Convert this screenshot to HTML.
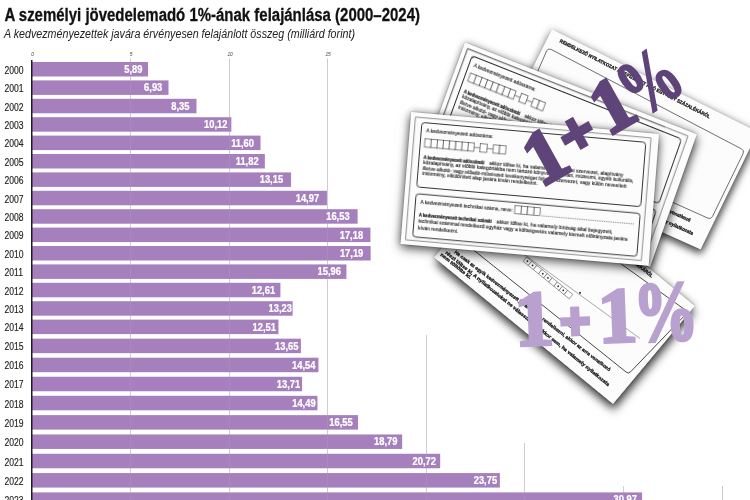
<!DOCTYPE html><html><head><meta charset="utf-8"><title>A személyi jövedelemadó 1%-ának felajánlása</title><style>
html,body{margin:0;padding:0;background:#fff}#wrap{position:relative;width:750px;height:500px;overflow:hidden;background:#fff;font-family:"Liberation Sans",sans-serif}
.layer{position:absolute;left:0;top:0;display:block;will-change:transform}
.form{position:absolute;left:0;top:0;transform-origin:0 0;background:#fcfcfc}.form svg{display:block;overflow:hidden}
</style></head><body><div id="wrap">
<svg width="750" height="500" viewBox="0 0 750 500" class="layer">
<line x1="130.5" y1="58.5" x2="130.5" y2="500" stroke="#c4c4c4" stroke-width="0.9"/>
<line x1="229.5" y1="58.5" x2="229.5" y2="500" stroke="#c4c4c4" stroke-width="0.9"/>
<line x1="327.5" y1="58.5" x2="327.5" y2="500" stroke="#c4c4c4" stroke-width="0.9"/>
<line x1="426.5" y1="334.8" x2="426.5" y2="500" stroke="#c4c4c4" stroke-width="0.9"/>
<line x1="524.5" y1="443" x2="524.5" y2="500" stroke="#c4c4c4" stroke-width="0.9"/>
<line x1="623.5" y1="486" x2="623.5" y2="500" stroke="#c4c4c4" stroke-width="0.9"/>
<line x1="722.5" y1="486" x2="722.5" y2="500" stroke="#c4c4c4" stroke-width="0.9"/>
<text x="32.6" y="56" font-family="Liberation Sans, sans-serif" font-style="italic" font-size="4.8" text-anchor="middle" fill="#444">0</text>
<text x="131.1" y="56" font-family="Liberation Sans, sans-serif" font-style="italic" font-size="4.8" text-anchor="middle" fill="#444">5</text>
<text x="230.1" y="56" font-family="Liberation Sans, sans-serif" font-style="italic" font-size="4.8" text-anchor="middle" fill="#444">10</text>
<text x="328.1" y="56" font-family="Liberation Sans, sans-serif" font-style="italic" font-size="4.8" text-anchor="middle" fill="#444">15</text>
<rect x="32.0" y="62.00" width="116.03" height="14.5" fill="#a680bc"/>
<text transform="translate(142.4,73.0) scale(0.9,1)" font-family="Liberation Sans, sans-serif" font-weight="bold" font-size="10.4" text-anchor="end" fill="#fff" stroke="#fff" stroke-width="0.25">5,89</text>
<text transform="translate(4.5,73.7) scale(0.86,1)" font-family="Liberation Sans, sans-serif" font-size="10" fill="#222" stroke="#222" stroke-width="0.15">2000</text>
<rect x="32.0" y="80.40" width="136.52" height="14.5" fill="#a680bc"/>
<text transform="translate(162.3,91.4) scale(0.9,1)" font-family="Liberation Sans, sans-serif" font-weight="bold" font-size="10.4" text-anchor="end" fill="#fff" stroke="#fff" stroke-width="0.25">6,93</text>
<text transform="translate(4.5,92.1) scale(0.86,1)" font-family="Liberation Sans, sans-serif" font-size="10" fill="#222" stroke="#222" stroke-width="0.15">2001</text>
<rect x="32.0" y="98.80" width="164.49" height="14.5" fill="#a680bc"/>
<text transform="translate(189.5,109.8) scale(0.9,1)" font-family="Liberation Sans, sans-serif" font-weight="bold" font-size="10.4" text-anchor="end" fill="#fff" stroke="#fff" stroke-width="0.25">8,35</text>
<text transform="translate(4.5,110.5) scale(0.86,1)" font-family="Liberation Sans, sans-serif" font-size="10" fill="#222" stroke="#222" stroke-width="0.15">2002</text>
<rect x="32.0" y="117.20" width="199.36" height="14.5" fill="#a680bc"/>
<text transform="translate(227.4,128.2) scale(0.9,1)" font-family="Liberation Sans, sans-serif" font-weight="bold" font-size="10.4" text-anchor="end" fill="#fff" stroke="#fff" stroke-width="0.25">10,12</text>
<text transform="translate(4.5,128.9) scale(0.86,1)" font-family="Liberation Sans, sans-serif" font-size="10" fill="#222" stroke="#222" stroke-width="0.15">2003</text>
<rect x="32.0" y="135.60" width="228.52" height="14.5" fill="#a680bc"/>
<text transform="translate(254.0,146.6) scale(0.9,1)" font-family="Liberation Sans, sans-serif" font-weight="bold" font-size="10.4" text-anchor="end" fill="#fff" stroke="#fff" stroke-width="0.25">11,60</text>
<text transform="translate(4.5,147.3) scale(0.86,1)" font-family="Liberation Sans, sans-serif" font-size="10" fill="#222" stroke="#222" stroke-width="0.15">2004</text>
<rect x="32.0" y="154.00" width="232.85" height="14.5" fill="#a680bc"/>
<text transform="translate(258.6,165.0) scale(0.9,1)" font-family="Liberation Sans, sans-serif" font-weight="bold" font-size="10.4" text-anchor="end" fill="#fff" stroke="#fff" stroke-width="0.25">11,82</text>
<text transform="translate(4.5,165.7) scale(0.86,1)" font-family="Liberation Sans, sans-serif" font-size="10" fill="#222" stroke="#222" stroke-width="0.15">2005</text>
<rect x="32.0" y="172.40" width="259.06" height="14.5" fill="#a680bc"/>
<text transform="translate(283.1,183.4) scale(0.9,1)" font-family="Liberation Sans, sans-serif" font-weight="bold" font-size="10.4" text-anchor="end" fill="#fff" stroke="#fff" stroke-width="0.25">13,15</text>
<text transform="translate(4.5,184.1) scale(0.86,1)" font-family="Liberation Sans, sans-serif" font-size="10" fill="#222" stroke="#222" stroke-width="0.15">2006</text>
<rect x="32.0" y="190.80" width="294.91" height="14.5" fill="#a680bc"/>
<text transform="translate(319.1,201.8) scale(0.9,1)" font-family="Liberation Sans, sans-serif" font-weight="bold" font-size="10.4" text-anchor="end" fill="#fff" stroke="#fff" stroke-width="0.25">14,97</text>
<text transform="translate(4.5,202.5) scale(0.86,1)" font-family="Liberation Sans, sans-serif" font-size="10" fill="#222" stroke="#222" stroke-width="0.15">2007</text>
<rect x="32.0" y="209.20" width="325.64" height="14.5" fill="#a680bc"/>
<text transform="translate(349.6,220.2) scale(0.9,1)" font-family="Liberation Sans, sans-serif" font-weight="bold" font-size="10.4" text-anchor="end" fill="#fff" stroke="#fff" stroke-width="0.25">16,53</text>
<text transform="translate(4.5,220.9) scale(0.86,1)" font-family="Liberation Sans, sans-serif" font-size="10" fill="#222" stroke="#222" stroke-width="0.15">2008</text>
<rect x="32.0" y="227.60" width="338.45" height="14.5" fill="#a680bc"/>
<text transform="translate(363.1,238.6) scale(0.9,1)" font-family="Liberation Sans, sans-serif" font-weight="bold" font-size="10.4" text-anchor="end" fill="#fff" stroke="#fff" stroke-width="0.25">17,18</text>
<text transform="translate(4.5,239.3) scale(0.86,1)" font-family="Liberation Sans, sans-serif" font-size="10" fill="#222" stroke="#222" stroke-width="0.15">2009</text>
<rect x="32.0" y="246.00" width="338.64" height="14.5" fill="#a680bc"/>
<text transform="translate(363.3,257.0) scale(0.9,1)" font-family="Liberation Sans, sans-serif" font-weight="bold" font-size="10.4" text-anchor="end" fill="#fff" stroke="#fff" stroke-width="0.25">17,19</text>
<text transform="translate(4.5,257.7) scale(0.86,1)" font-family="Liberation Sans, sans-serif" font-size="10" fill="#222" stroke="#222" stroke-width="0.15">2010</text>
<rect x="32.0" y="264.40" width="314.41" height="14.5" fill="#a680bc"/>
<text transform="translate(340.9,275.4) scale(0.9,1)" font-family="Liberation Sans, sans-serif" font-weight="bold" font-size="10.4" text-anchor="end" fill="#fff" stroke="#fff" stroke-width="0.25">15,96</text>
<text transform="translate(4.5,276.1) scale(0.86,1)" font-family="Liberation Sans, sans-serif" font-size="10" fill="#222" stroke="#222" stroke-width="0.15">2011</text>
<rect x="32.0" y="282.80" width="248.42" height="14.5" fill="#a680bc"/>
<text transform="translate(275.1,293.8) scale(0.9,1)" font-family="Liberation Sans, sans-serif" font-weight="bold" font-size="10.4" text-anchor="end" fill="#fff" stroke="#fff" stroke-width="0.25">12,61</text>
<text transform="translate(4.5,294.5) scale(0.86,1)" font-family="Liberation Sans, sans-serif" font-size="10" fill="#222" stroke="#222" stroke-width="0.15">2012</text>
<rect x="32.0" y="301.20" width="260.63" height="14.5" fill="#a680bc"/>
<text transform="translate(291.9,312.2) scale(0.9,1)" font-family="Liberation Sans, sans-serif" font-weight="bold" font-size="10.4" text-anchor="end" fill="#fff" stroke="#fff" stroke-width="0.25">13,23</text>
<text transform="translate(4.5,312.9) scale(0.86,1)" font-family="Liberation Sans, sans-serif" font-size="10" fill="#222" stroke="#222" stroke-width="0.15">2013</text>
<rect x="32.0" y="319.60" width="246.45" height="14.5" fill="#a680bc"/>
<text transform="translate(276.0,330.6) scale(0.9,1)" font-family="Liberation Sans, sans-serif" font-weight="bold" font-size="10.4" text-anchor="end" fill="#fff" stroke="#fff" stroke-width="0.25">12,51</text>
<text transform="translate(4.5,331.3) scale(0.86,1)" font-family="Liberation Sans, sans-serif" font-size="10" fill="#222" stroke="#222" stroke-width="0.15">2014</text>
<rect x="32.0" y="338.65" width="268.90" height="14.5" fill="#a680bc"/>
<text transform="translate(298.5,349.6) scale(0.9,1)" font-family="Liberation Sans, sans-serif" font-weight="bold" font-size="10.4" text-anchor="end" fill="#fff" stroke="#fff" stroke-width="0.25">13,65</text>
<text transform="translate(4.5,350.3) scale(0.86,1)" font-family="Liberation Sans, sans-serif" font-size="10" fill="#222" stroke="#222" stroke-width="0.15">2015</text>
<rect x="32.0" y="357.70" width="286.44" height="14.5" fill="#a680bc"/>
<text transform="translate(315.5,368.7) scale(0.9,1)" font-family="Liberation Sans, sans-serif" font-weight="bold" font-size="10.4" text-anchor="end" fill="#fff" stroke="#fff" stroke-width="0.25">14,54</text>
<text transform="translate(4.5,369.4) scale(0.86,1)" font-family="Liberation Sans, sans-serif" font-size="10" fill="#222" stroke="#222" stroke-width="0.15">2016</text>
<rect x="32.0" y="376.75" width="270.09" height="14.5" fill="#a680bc"/>
<text transform="translate(300.2,387.8) scale(0.9,1)" font-family="Liberation Sans, sans-serif" font-weight="bold" font-size="10.4" text-anchor="end" fill="#fff" stroke="#fff" stroke-width="0.25">13,71</text>
<text transform="translate(4.5,388.4) scale(0.86,1)" font-family="Liberation Sans, sans-serif" font-size="10" fill="#222" stroke="#222" stroke-width="0.15">2017</text>
<rect x="32.0" y="395.80" width="285.45" height="14.5" fill="#a680bc"/>
<text transform="translate(315.6,406.8) scale(0.9,1)" font-family="Liberation Sans, sans-serif" font-weight="bold" font-size="10.4" text-anchor="end" fill="#fff" stroke="#fff" stroke-width="0.25">14,49</text>
<text transform="translate(4.5,407.5) scale(0.86,1)" font-family="Liberation Sans, sans-serif" font-size="10" fill="#222" stroke="#222" stroke-width="0.15">2018</text>
<rect x="32.0" y="415.12" width="326.04" height="14.5" fill="#a680bc"/>
<text transform="translate(352.7,426.1) scale(0.9,1)" font-family="Liberation Sans, sans-serif" font-weight="bold" font-size="10.4" text-anchor="end" fill="#fff" stroke="#fff" stroke-width="0.25">16,55</text>
<text transform="translate(4.5,426.8) scale(0.86,1)" font-family="Liberation Sans, sans-serif" font-size="10" fill="#222" stroke="#222" stroke-width="0.15">2019</text>
<rect x="32.0" y="434.44" width="370.16" height="14.5" fill="#a680bc"/>
<text transform="translate(397.4,445.4) scale(0.9,1)" font-family="Liberation Sans, sans-serif" font-weight="bold" font-size="10.4" text-anchor="end" fill="#fff" stroke="#fff" stroke-width="0.25">18,79</text>
<text transform="translate(4.5,446.1) scale(0.86,1)" font-family="Liberation Sans, sans-serif" font-size="10" fill="#222" stroke="#222" stroke-width="0.15">2020</text>
<rect x="32.0" y="453.76" width="408.18" height="14.5" fill="#a680bc"/>
<text transform="translate(435.9,464.8) scale(0.9,1)" font-family="Liberation Sans, sans-serif" font-weight="bold" font-size="10.4" text-anchor="end" fill="#fff" stroke="#fff" stroke-width="0.25">20,72</text>
<text transform="translate(4.5,465.5) scale(0.86,1)" font-family="Liberation Sans, sans-serif" font-size="10" fill="#222" stroke="#222" stroke-width="0.15">2021</text>
<rect x="32.0" y="473.08" width="467.88" height="14.5" fill="#a680bc"/>
<text transform="translate(497.1,484.1) scale(0.9,1)" font-family="Liberation Sans, sans-serif" font-weight="bold" font-size="10.4" text-anchor="end" fill="#fff" stroke="#fff" stroke-width="0.25">23,75</text>
<text transform="translate(4.5,484.8) scale(0.86,1)" font-family="Liberation Sans, sans-serif" font-size="10" fill="#222" stroke="#222" stroke-width="0.15">2022</text>
<rect x="32.0" y="492.40" width="610.11" height="14.5" fill="#a680bc"/>
<text transform="translate(636.9,503.4) scale(0.9,1)" font-family="Liberation Sans, sans-serif" font-weight="bold" font-size="10.4" text-anchor="end" fill="#fff" stroke="#fff" stroke-width="0.25">30,97</text>
<text transform="translate(4.5,504.1) scale(0.86,1)" font-family="Liberation Sans, sans-serif" font-size="10" fill="#222" stroke="#222" stroke-width="0.15">2023</text>
<line x1="130.5" y1="62" x2="130.5" y2="500" stroke="#fff" stroke-opacity="0.08" stroke-width="0.9"/>
<line x1="229.5" y1="62" x2="229.5" y2="500" stroke="#fff" stroke-opacity="0.08" stroke-width="0.9"/>
<line x1="327.5" y1="62" x2="327.5" y2="500" stroke="#fff" stroke-opacity="0.08" stroke-width="0.9"/>
<line x1="426.5" y1="62" x2="426.5" y2="500" stroke="#fff" stroke-opacity="0.08" stroke-width="0.9"/>
<line x1="524.5" y1="62" x2="524.5" y2="500" stroke="#fff" stroke-opacity="0.08" stroke-width="0.9"/>
<line x1="623.5" y1="62" x2="623.5" y2="500" stroke="#fff" stroke-opacity="0.08" stroke-width="0.9"/>
<rect x="31" y="60" width="1.5" height="440" fill="#221a28"/>
<text x="4.4" y="21" font-family="Liberation Sans, sans-serif" font-weight="bold" font-size="18" textLength="415.6" lengthAdjust="spacingAndGlyphs" fill="#111" stroke="#111" stroke-width="0.3">A személyi jövedelemadó 1%-ának felajánlása (2000–2024)</text>
<text x="4" y="38.4" font-family="Liberation Sans, sans-serif" font-style="italic" font-size="12.5" textLength="351" lengthAdjust="spacingAndGlyphs" fill="#222">A kedvezményezettek javára érvényesen felajánlott összeg (milliárd forint)</text>
</svg>
<div class="form" id="formD" style="width:233px;height:130px;transform:matrix3d(0.79504634,0.6479084,0,3.7345459e-05,-0.610687,0.77623556,0,3.9182727e-05,0,0,1,0,515.6,157.7,0,1);box-shadow:5.2px 4.8px 9px 0 rgba(0,0,0,0.7),0 0 8px 0 rgba(0,0,0,.32),0 0 1.5px 0 rgba(0,0,0,0.4)"><svg width="233" height="130" viewBox="0 0 233 130"></svg></div>
<svg width="750" height="500" viewBox="0 0 750 500" class="layer"><defs><clipPath id="clipD"><polygon points="515.6,157.7 694.8,306.0 613.0,404.0 434.0,257.3"/></clipPath></defs><g clip-path="url(#clipD)"><path d="M430.0 215.2L626.2 372.1Q628.5 374.0 630.6 371.8L685.9 314.2Q688.0 312.0 685.6 310.2L560.0 220.0" fill="none" stroke="#333" stroke-width="0.9"/><path d="M470.0 215.0L640.0 338.5" fill="none" stroke="#555" stroke-width="0.5"/><text transform="translate(520.0,171.0) rotate(38.53)" y="1.6" font-family="Liberation Sans, sans-serif" font-weight="bold" font-size="4.8" fill="#151515" stroke="#151515" stroke-width="0.28" textLength="169.4" lengthAdjust="spacingAndGlyphs">RENDELKEZŐ NYILATKOZAT A BEFIZETETT ADÓ EGY+EGY SZÁZALÉKÁRÓL</text><text transform="translate(455.0,251.4) rotate(37.42)" y="1.6" font-family="Liberation Sans, sans-serif" font-weight="bold" font-size="4.8" fill="#151515" stroke="#151515" stroke-width="0.28" textLength="195.2" lengthAdjust="spacingAndGlyphs">Ha csak az egyik kedvezményezett javára kíván rendelkezni, akkor az arra vonatkozó</text><text transform="translate(446.0,252.0) rotate(39.21)" y="1.6" font-family="Liberation Sans, sans-serif" font-weight="bold" font-size="4.8" fill="#151515" stroke="#151515" stroke-width="0.28" textLength="210.4" lengthAdjust="spacingAndGlyphs">részt töltse ki. A nyilatkozatokat ne válassza szét akkor sem, ha valamely nyilatkozata</text><text transform="translate(441.0,254.0) rotate(38.66)" y="1.6" font-family="Liberation Sans, sans-serif" font-weight="bold" font-size="4.8" fill="#151515" stroke="#151515" stroke-width="0.28" textLength="38.4" lengthAdjust="spacingAndGlyphs">nem töltötte ki.</text><g transform="translate(525,259) rotate(39.1)"><rect x="0.0" y="-2.6" width="6.6" height="5.6" fill="#fff" stroke="#444" stroke-width="0.5"/><circle cx="3.3" cy="0.2" r="0.9" fill="#222"/><rect x="6.6" y="-2.6" width="6.6" height="5.6" fill="#fff" stroke="#444" stroke-width="0.5"/><circle cx="9.9" cy="0.2" r="0.9" fill="#222"/><rect x="13.2" y="-2.6" width="6.6" height="5.6" fill="#fff" stroke="#444" stroke-width="0.5"/><rect x="19.8" y="-2.6" width="6.6" height="5.6" fill="#fff" stroke="#444" stroke-width="0.5"/><circle cx="23.1" cy="0.2" r="0.9" fill="#222"/><rect x="26.4" y="-2.6" width="6.6" height="5.6" fill="#fff" stroke="#444" stroke-width="0.5"/><circle cx="29.7" cy="0.2" r="0.9" fill="#222"/><rect x="33.0" y="-2.6" width="6.6" height="5.6" fill="#fff" stroke="#444" stroke-width="0.5"/><rect x="39.6" y="-2.6" width="6.6" height="5.6" fill="#fff" stroke="#444" stroke-width="0.5"/><circle cx="42.9" cy="0.2" r="0.9" fill="#222"/><rect x="46.2" y="-2.6" width="6.6" height="5.6" fill="#fff" stroke="#444" stroke-width="0.5"/><circle cx="49.5" cy="0.2" r="0.9" fill="#222"/><rect x="52.8" y="-2.6" width="6.6" height="5.6" fill="#fff" stroke="#444" stroke-width="0.5"/><circle cx="64" cy="-8.5" r="1" fill="#222"/></g></g></svg>
<div class="form" id="formC" style="width:230px;height:142px;transform:matrix3d(1.1312483,0.48727654,0,0.00031204229,-0.46429453,0.87450352,0,-4.6485259e-05,0,0,1,0,552,29.4,0,1);box-shadow:2.7px 5.4px 8px 0 rgba(0,0,0,0.62),0 0 8px 0 rgba(0,0,0,.32),0 0 1.5px 0 rgba(0,0,0,0.15)"><svg width="230" height="142" viewBox="0 0 230 142"></svg></div>
<svg width="750" height="500" viewBox="0 0 750 500" class="layer"><defs><clipPath id="clipC"><polygon points="552.0,29.4 757.8,132.0 700.6,249.4 489.3,154.6"/></clipPath></defs><g clip-path="url(#clipC)"><text transform="translate(560.0,40.6) rotate(26.99)" y="1.6" font-family="Liberation Sans, sans-serif" font-weight="bold" font-size="4.8" fill="#151515" stroke="#151515" stroke-width="0.28" textLength="168.3" lengthAdjust="spacingAndGlyphs">RENDELKEZŐ NYILATKOZAT A BEFIZETETT ADÓ EGY+EGY SZÁZALÉKÁRÓL</text><path d="M546.6 51.0Q548.0 47.8 551.1 49.4L741.5 148.9Q744.6 150.5 743.1 153.6L712.5 216.4Q711.0 219.5 707.8 218.1L515.2 131.4Q512.0 130.0 513.4 126.8Z" fill="none" stroke="#4a4a4a" stroke-width="0.8"/><text transform="translate(560.0,161.0) rotate(24.51)" y="1.6" font-family="Liberation Sans, sans-serif" font-weight="bold" font-size="5" fill="#151515" stroke="#151515" stroke-width="0.28" textLength="143.4" lengthAdjust="spacingAndGlyphs">egyik kedvezményezett javára kíván rendelkezni, az arra vonatkozó</text><text transform="translate(556.0,172.0) rotate(24.18)" y="1.6" font-family="Liberation Sans, sans-serif" font-weight="bold" font-size="5" fill="#151515" stroke="#151515" stroke-width="0.28" textLength="150.2" lengthAdjust="spacingAndGlyphs">nyilatkozatokat ne válassza szét akkor sem, ha valamely nyilatkozata</text></g></svg>
<div class="form" id="formB" style="width:249px;height:133px;transform:matrix3d(0.87530911,0.35835725,0,-7.9814267e-05,-0.36869258,0.96813664,0,-3.6624696e-05,0,0,1,0,465,42.4,0,1);box-shadow:2.8px 4.3px 9px 0 rgba(0,0,0,0.6),0 0 8px 0 rgba(0,0,0,.32),0 0 1.5px 0 rgba(0,0,0,0.4)"><svg width="249" height="133" viewBox="0 0 249 133"><defs><clipPath id="clipB"><rect x="0" y="0" width="217" height="133"/></clipPath></defs><g clip-path="url(#clipB)"><rect x="4.8" y="4.8" width="236.4" height="123.4" fill="none" stroke="#444" stroke-width="0.6"/><rect x="11.5" y="9.5" width="225" height="65" rx="3.2" fill="none" stroke="#2a2a2a" stroke-width="0.95"/><rect x="11.5" y="81.3" width="225" height="43.4" rx="3.2" fill="none" stroke="#2a2a2a" stroke-width="0.95"/><text x="16.5" y="19.30" font-family="Liberation Sans, sans-serif" font-size="5" fill="#151515" stroke="#151515" stroke-width="0.1" textLength="67.0" lengthAdjust="spacingAndGlyphs">A kedvezményezett adószáma:</text><rect x="16.00" y="25.50" width="6.20" height="8.40" fill="#fff" stroke="#333" stroke-width="0.6"/><rect x="22.20" y="25.50" width="6.20" height="8.40" fill="#fff" stroke="#333" stroke-width="0.6"/><rect x="28.40" y="25.50" width="6.20" height="8.40" fill="#fff" stroke="#333" stroke-width="0.6"/><rect x="34.60" y="25.50" width="6.20" height="8.40" fill="#fff" stroke="#333" stroke-width="0.6"/><rect x="40.80" y="25.50" width="6.20" height="8.40" fill="#fff" stroke="#333" stroke-width="0.6"/><rect x="47.00" y="25.50" width="6.20" height="8.40" fill="#fff" stroke="#333" stroke-width="0.6"/><rect x="53.20" y="25.50" width="6.20" height="8.40" fill="#fff" stroke="#333" stroke-width="0.6"/><rect x="59.40" y="25.50" width="6.20" height="8.40" fill="#fff" stroke="#333" stroke-width="0.6"/><line x1="65.6" y1="29.8" x2="71.6" y2="29.8" stroke="#333" stroke-width="0.6"/><rect x="71.60" y="25.50" width="6.80" height="8.40" fill="#fff" stroke="#333" stroke-width="0.6"/><line x1="78.39999999999999" y1="29.8" x2="84.8" y2="29.8" stroke="#333" stroke-width="0.6"/><rect x="84.80" y="25.50" width="6.20" height="8.40" fill="#fff" stroke="#333" stroke-width="0.6"/><rect x="91.00" y="25.50" width="6.20" height="8.40" fill="#fff" stroke="#333" stroke-width="0.6"/><text x="16.0" y="45.60" font-family="Liberation Sans, sans-serif" font-weight="bold" font-size="4.9" fill="#151515" stroke="#151515" stroke-width="0.22" textLength="61.0" lengthAdjust="spacingAndGlyphs">A kedvezményezett adószámát</text><text x="82.0" y="45.60" font-family="Liberation Sans, sans-serif" font-size="4.9" fill="#151515" stroke="#151515" stroke-width="0.1" textLength="134.6" lengthAdjust="spacingAndGlyphs">akkor töltse ki, ha valamely társadalmi szervezet, alapítvány</text><text x="16.0" y="51.10" font-family="Liberation Sans, sans-serif" font-size="4.9" fill="#151515" stroke="#151515" stroke-width="0.1" textLength="211.5" lengthAdjust="spacingAndGlyphs">közalapítvány, az előbbi kategóriákba nem tartozó könyvtári, levéltári, múzeumi, egyéb kulturális,</text><text x="16.0" y="56.60" font-family="Liberation Sans, sans-serif" font-size="4.9" fill="#151515" stroke="#151515" stroke-width="0.1" textLength="204.6" lengthAdjust="spacingAndGlyphs">illetve alkotó- vagy előadó-művészeti tevékenységet folytató szervezet, vagy külön nevesített</text><text x="16.0" y="62.10" font-family="Liberation Sans, sans-serif" font-size="4.9" fill="#151515" stroke="#151515" stroke-width="0.1" textLength="115.8" lengthAdjust="spacingAndGlyphs">intézmény, elkülönített alap javára kíván rendelkezni.</text><text x="16.5" y="91.00" font-family="Liberation Sans, sans-serif" font-size="5" fill="#151515" stroke="#151515" stroke-width="0.1" textLength="92.5" lengthAdjust="spacingAndGlyphs">A kedvezményezett technikai száma, neve:</text><rect x="111.00" y="84.60" width="6.40" height="8.00" fill="#fff" stroke="#333" stroke-width="0.6"/><rect x="117.40" y="84.60" width="6.40" height="8.00" fill="#fff" stroke="#333" stroke-width="0.6"/><rect x="123.80" y="84.60" width="6.40" height="8.00" fill="#fff" stroke="#333" stroke-width="0.6"/><rect x="130.20" y="84.60" width="6.40" height="8.00" fill="#fff" stroke="#333" stroke-width="0.6"/><line x1="138" y1="92.4" x2="231" y2="92.4" stroke="#333" stroke-width="0.6" stroke-dasharray="1 0.8"/><text x="16.0" y="104.20" font-family="Liberation Sans, sans-serif" font-weight="bold" font-size="4.9" fill="#151515" stroke="#151515" stroke-width="0.22" textLength="72.8" lengthAdjust="spacingAndGlyphs">A kedvezményezett technikai számát</text><text x="93.8" y="104.20" font-family="Liberation Sans, sans-serif" font-size="4.9" fill="#151515" stroke="#151515" stroke-width="0.1" textLength="116.7" lengthAdjust="spacingAndGlyphs">akkor töltse ki, ha valamely bíróság által bejegyzett,</text><text x="16.0" y="110.50" font-family="Liberation Sans, sans-serif" font-size="4.9" fill="#151515" stroke="#151515" stroke-width="0.1" textLength="209.7" lengthAdjust="spacingAndGlyphs">technikai számmal rendelkező egyház vagy a költségvetés valamely kiemelt előirányzata javára</text><text x="16.0" y="116.80" font-family="Liberation Sans, sans-serif" font-size="4.9" fill="#151515" stroke="#151515" stroke-width="0.1" textLength="40.3" lengthAdjust="spacingAndGlyphs">kíván rendelkezni.</text></g><rect x="4.8" y="4.8" width="236.4" height="123.4" fill="none" stroke="#444" stroke-width="0.6"/><rect x="11.5" y="9.5" width="225" height="65" rx="3.2" fill="none" stroke="#2a2a2a" stroke-width="0.95"/><rect x="11.5" y="81.3" width="225" height="43.4" rx="3.2" fill="none" stroke="#2a2a2a" stroke-width="0.95"/></svg></div>
<div class="form" id="formA" style="width:249px;height:133px;transform:matrix3d(0.99969481,0.089271302,0,6.8499093e-06,-0.083877036,0.99039401,0,-8.5540779e-06,0,0,1,0,411.2,112,0,1);box-shadow:0.4px 4.0px 10px 0 rgba(0,0,0,0.58),0 0 8px 0 rgba(0,0,0,.32),0 0 1.5px 0 rgba(0,0,0,0.4)"><svg width="249" height="133" viewBox="0 0 249 133"><rect x="4.8" y="4.8" width="236.4" height="123.4" fill="none" stroke="#444" stroke-width="0.6"/><rect x="11.5" y="9.5" width="225" height="65" rx="3.2" fill="none" stroke="#2a2a2a" stroke-width="0.95"/><rect x="11.5" y="81.3" width="225" height="43.4" rx="3.2" fill="none" stroke="#2a2a2a" stroke-width="0.95"/><text x="16.5" y="19.30" font-family="Liberation Sans, sans-serif" font-size="5" fill="#151515" stroke="#151515" stroke-width="0.1" textLength="67.0" lengthAdjust="spacingAndGlyphs">A kedvezményezett adószáma:</text><rect x="16.00" y="25.50" width="6.20" height="8.40" fill="#fff" stroke="#333" stroke-width="0.6"/><rect x="22.20" y="25.50" width="6.20" height="8.40" fill="#fff" stroke="#333" stroke-width="0.6"/><rect x="28.40" y="25.50" width="6.20" height="8.40" fill="#fff" stroke="#333" stroke-width="0.6"/><rect x="34.60" y="25.50" width="6.20" height="8.40" fill="#fff" stroke="#333" stroke-width="0.6"/><rect x="40.80" y="25.50" width="6.20" height="8.40" fill="#fff" stroke="#333" stroke-width="0.6"/><rect x="47.00" y="25.50" width="6.20" height="8.40" fill="#fff" stroke="#333" stroke-width="0.6"/><rect x="53.20" y="25.50" width="6.20" height="8.40" fill="#fff" stroke="#333" stroke-width="0.6"/><rect x="59.40" y="25.50" width="6.20" height="8.40" fill="#fff" stroke="#333" stroke-width="0.6"/><line x1="65.6" y1="29.8" x2="71.6" y2="29.8" stroke="#333" stroke-width="0.6"/><rect x="71.60" y="25.50" width="6.80" height="8.40" fill="#fff" stroke="#333" stroke-width="0.6"/><line x1="78.39999999999999" y1="29.8" x2="84.8" y2="29.8" stroke="#333" stroke-width="0.6"/><rect x="84.80" y="25.50" width="6.20" height="8.40" fill="#fff" stroke="#333" stroke-width="0.6"/><rect x="91.00" y="25.50" width="6.20" height="8.40" fill="#fff" stroke="#333" stroke-width="0.6"/><text x="16.0" y="45.60" font-family="Liberation Sans, sans-serif" font-weight="bold" font-size="4.9" fill="#151515" stroke="#151515" stroke-width="0.22" textLength="61.0" lengthAdjust="spacingAndGlyphs">A kedvezményezett adószámát</text><text x="82.0" y="45.60" font-family="Liberation Sans, sans-serif" font-size="4.9" fill="#151515" stroke="#151515" stroke-width="0.1" textLength="134.6" lengthAdjust="spacingAndGlyphs">akkor töltse ki, ha valamely társadalmi szervezet, alapítvány</text><text x="16.0" y="51.10" font-family="Liberation Sans, sans-serif" font-size="4.9" fill="#151515" stroke="#151515" stroke-width="0.1" textLength="211.5" lengthAdjust="spacingAndGlyphs">közalapítvány, az előbbi kategóriákba nem tartozó könyvtári, levéltári, múzeumi, egyéb kulturális,</text><text x="16.0" y="56.60" font-family="Liberation Sans, sans-serif" font-size="4.9" fill="#151515" stroke="#151515" stroke-width="0.1" textLength="204.6" lengthAdjust="spacingAndGlyphs">illetve alkotó- vagy előadó-művészeti tevékenységet folytató szervezet, vagy külön nevesített</text><text x="16.0" y="62.10" font-family="Liberation Sans, sans-serif" font-size="4.9" fill="#151515" stroke="#151515" stroke-width="0.1" textLength="115.8" lengthAdjust="spacingAndGlyphs">intézmény, elkülönített alap javára kíván rendelkezni.</text><text x="16.5" y="91.00" font-family="Liberation Sans, sans-serif" font-size="5" fill="#151515" stroke="#151515" stroke-width="0.1" textLength="92.5" lengthAdjust="spacingAndGlyphs">A kedvezményezett technikai száma, neve:</text><rect x="111.00" y="84.60" width="6.40" height="8.00" fill="#fff" stroke="#333" stroke-width="0.6"/><rect x="117.40" y="84.60" width="6.40" height="8.00" fill="#fff" stroke="#333" stroke-width="0.6"/><rect x="123.80" y="84.60" width="6.40" height="8.00" fill="#fff" stroke="#333" stroke-width="0.6"/><rect x="130.20" y="84.60" width="6.40" height="8.00" fill="#fff" stroke="#333" stroke-width="0.6"/><line x1="138" y1="92.4" x2="231" y2="92.4" stroke="#333" stroke-width="0.6" stroke-dasharray="1 0.8"/><text x="16.0" y="104.20" font-family="Liberation Sans, sans-serif" font-weight="bold" font-size="4.9" fill="#151515" stroke="#151515" stroke-width="0.22" textLength="72.8" lengthAdjust="spacingAndGlyphs">A kedvezményezett technikai számát</text><text x="93.8" y="104.20" font-family="Liberation Sans, sans-serif" font-size="4.9" fill="#151515" stroke="#151515" stroke-width="0.1" textLength="116.7" lengthAdjust="spacingAndGlyphs">akkor töltse ki, ha valamely bíróság által bejegyzett,</text><text x="16.0" y="110.50" font-family="Liberation Sans, sans-serif" font-size="4.9" fill="#151515" stroke="#151515" stroke-width="0.1" textLength="209.7" lengthAdjust="spacingAndGlyphs">technikai számmal rendelkező egyház vagy a költségvetés valamely kiemelt előirányzata javára</text><text x="16.0" y="116.80" font-family="Liberation Sans, sans-serif" font-size="4.9" fill="#151515" stroke="#151515" stroke-width="0.1" textLength="40.3" lengthAdjust="spacingAndGlyphs">kíván rendelkezni.</text></svg></div>
<svg width="750" height="500" viewBox="0 0 750 500" class="layer">
<g fill="#b9a1cf" stroke="#b9a1cf" transform="rotate(-2.2 578 343)">
<text x="535" y="343.6" font-family="Liberation Serif, serif" font-weight="bold" stroke-linejoin="miter" text-anchor="middle" font-size="79" stroke-width="3">1</text>
<text x="576" y="338.5" font-family="Liberation Serif, serif" font-weight="bold" stroke-linejoin="miter" text-anchor="middle" font-size="52" stroke-width="5.5">+</text>
<text x="618.6" y="343.6" font-family="Liberation Serif, serif" font-weight="bold" stroke-linejoin="miter" text-anchor="middle" font-size="79" stroke-width="3">1</text>
<text transform="translate(667,343.5) scale(0.85,1.13)" font-family="Liberation Serif, serif" font-weight="bold" stroke-linejoin="miter" text-anchor="middle" font-size="75" stroke-width="3">%</text>
</g>
<g fill="#5e4478" stroke="#5e4478">
<text transform="matrix(0.8660,-0.5000,0.4848,0.8746,557.5,178)" font-family="Liberation Serif, serif" font-weight="bold" stroke-linejoin="miter" text-anchor="middle" font-size="76" stroke-width="3.6">1</text>
<text transform="matrix(0.8660,-0.5000,0.4848,0.8746,586,150.3)" font-family="Liberation Serif, serif" font-weight="bold" stroke-linejoin="miter" text-anchor="middle" font-size="58" stroke-width="5.5">+</text>
<text transform="matrix(0.8660,-0.5000,0.4848,0.8746,624.5,127)" font-family="Liberation Serif, serif" font-weight="bold" stroke-linejoin="miter" text-anchor="middle" font-size="76" stroke-width="3.6">1</text>
<text transform="matrix(0.6253,-0.4227,0.6373,0.8853,641.45,119.1)" font-family="Liberation Serif, serif" font-weight="bold" stroke-linejoin="miter" font-size="75" stroke-width="2">%</text>
</g></svg>
</div></body></html>
